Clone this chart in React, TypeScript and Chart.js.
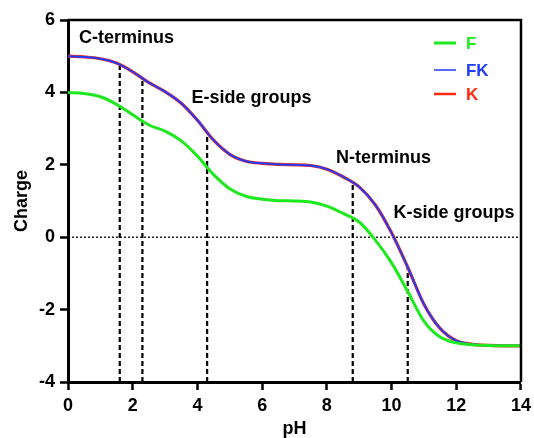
import React, { useEffect, useRef } from "react";
import { Chart, registerables } from "chart.js";

Chart.register(...registerables);

// pH sample points
const phValues = [0, 0.5, 1, 1.5, 2, 2.5, 3, 3.5, 4, 4.5, 5, 5.5, 6, 6.5, 7, 7.5, 8, 8.5, 9, 9.5, 10, 10.5, 11, 11.5, 12, 12.5, 13, 13.5, 14];

// Net charge series
const chargeF = [4.0, 3.97, 3.88, 3.67, 3.38, 3.1, 2.93, 2.66, 2.24, 1.73, 1.34, 1.13, 1.05, 1.01, 1.0, 0.97, 0.86, 0.66, 0.42, -0.08, -0.71, -1.5, -2.32, -2.76, -2.92, -2.97, -2.99, -3.0, -3.0];
const chargeFK = [5.0, 4.98, 4.93, 4.81, 4.57, 4.27, 4.02, 3.7, 3.23, 2.68, 2.29, 2.1, 2.04, 2.01, 2.0, 1.98, 1.88, 1.67, 1.39, 0.89, 0.12, -0.83, -1.85, -2.52, -2.86, -2.96, -2.99, -3.0, -3.0];
const chargeK = [5.0, 4.98, 4.93, 4.81, 4.57, 4.27, 4.02, 3.7, 3.23, 2.68, 2.29, 2.1, 2.04, 2.01, 2.0, 1.98, 1.88, 1.67, 1.39, 0.89, 0.12, -0.83, -1.85, -2.52, -2.86, -2.96, -2.99, -3.0, -3.0];

// pKa marker lines (pH, charge at the curve)
const pkaValues = [1.6, 2.3, 4.3, 8.8, 10.5];
const pkaCharges = [4.78, 4.38, 2.87, 1.52, -0.83];

// Group annotations
const groupLabels = ["C-terminus", "E-side groups", "N-terminus", "K-side groups"];
const labelPH = [0.34, 3.82, 8.28, 10.06];
const labelCharge = [5.49, 3.85, 2.19, 0.67];

// Series names & axis
const seriesNames = ["F", "FK", "K"];
const xTicks = [0, 2, 4, 6, 8, 10, 12, 14];
const yTicks = [-4, -2, 0, 2, 4, 6];

const FONT = "'Liberation Sans', Arial, Helvetica, sans-serif";
const GREEN = "#1ee81e";
const BLUE = "#1f3cf8";
const RED = "#ff2a10";

export default function App() {
  const ref = useRef<HTMLCanvasElement | null>(null);

  useEffect(() => {
    if (!ref.current) return;
    const pts = (ys: number[]) => phValues.map((x, i) => ({ x, y: ys[i] }));

    const curveColors = [GREEN, BLUE, RED];
    const curveWidths = [3, 2, 3.2];
    const curveData = [chargeF, chargeFK, chargeK];

    const datasets: any[] = curveData.map((d, i) => ({
      label: seriesNames[i],
      data: pts(d),
      borderColor: curveColors[i],
      borderWidth: curveWidths[i],
      pointRadius: 0,
      cubicInterpolationMode: "monotone",
      fill: false,
    }));

    pkaValues.forEach((p, i) => {
      datasets.push({
        label: "pKa" + i,
        data: [
          { x: p, y: yTicks[0] },
          { x: p, y: pkaCharges[i] },
        ],
        borderColor: "#000",
        borderWidth: 2.2,
        borderDash: [5, 3],
        pointRadius: 0,
        fill: false,
      });
    });

    datasets.push({
      label: "zero",
      data: [
        { x: xTicks[0], y: 0 },
        { x: xTicks[xTicks.length - 1], y: 0 },
      ],
      borderColor: "#000",
      borderWidth: 1.3,
      borderDash: [2, 2],
      pointRadius: 0,
      fill: false,
    });

    const overlay = {
      id: "overlay",
      afterDatasetsDraw(chart: any) {
        const ctx = chart.ctx;
        const { left, right, top, bottom } = chart.chartArea;
        const xs = chart.scales.x;
        const ys = chart.scales.y;
        ctx.save();
        // annotations
        ctx.fillStyle = "#000";
        ctx.font = `bold 18px ${FONT}`;
        ctx.textAlign = "left";
        ctx.textBaseline = "middle";
        groupLabels.forEach((t, i) => {
          ctx.fillText(t, xs.getPixelForValue(labelPH[i]), ys.getPixelForValue(labelCharge[i]));
        });
        // legend
        const legendColors = [GREEN, BLUE, RED];
        const legendWidths = [3, 1.5, 2.5];
        const legendY = [top + 23, top + 50, top + 74];
        ctx.font = `bold 17px ${FONT}`;
        seriesNames.forEach((n, i) => {
          ctx.beginPath();
          ctx.strokeStyle = legendColors[i];
          ctx.lineWidth = legendWidths[i];
          ctx.moveTo(right - 87, legendY[i]);
          ctx.lineTo(right - 65, legendY[i]);
          ctx.stroke();
          ctx.fillStyle = legendColors[i];
          ctx.fillText(n, right - 55, legendY[i] + 1);
        });
        // top & right frame
        ctx.beginPath();
        ctx.strokeStyle = "#000";
        ctx.lineWidth = 2.5;
        ctx.moveTo(left, top);
        ctx.lineTo(right, top);
        ctx.lineTo(right, bottom);
        ctx.stroke();
        ctx.restore();
      },
    };

    const tickFont = { size: 18, weight: "bold" as const, family: FONT };

    const chart = new Chart(ref.current, {
      type: "line",
      data: { datasets },
      options: {
        animation: false,
        responsive: false,
        devicePixelRatio: 1,
        layout: { padding: { left: 0, right: 11, top: 20, bottom: 0 } },
        plugins: { legend: { display: false }, tooltip: { enabled: false } },
        scales: {
          x: {
            type: "linear",
            min: xTicks[0],
            max: xTicks[xTicks.length - 1],
            afterBuildTicks: (s: any) => {
              s.ticks = xTicks.map((v) => ({ value: v }));
            },
            ticks: { color: "#000", font: { ...tickFont, lineHeight: 1.4 }, padding: 3, maxRotation: 0 },
            grid: { drawOnChartArea: false, tickLength: 8, tickWidth: 2.5, tickColor: "#000" },
            border: { color: "#000", width: 3 },
            title: {
              display: true,
              text: "pH",
              color: "#000",
              font: { size: 18, weight: "bold", family: FONT, lineHeight: 1 },
              padding: { top: 0, bottom: 0 },
            },
            afterFit: (s: any) => {
              s.height = 56;
            },
          },
          y: {
            type: "linear",
            min: yTicks[0],
            max: yTicks[yTicks.length - 1],
            afterBuildTicks: (s: any) => {
              s.ticks = yTicks.map((v) => ({ value: v }));
            },
            ticks: { color: "#000", font: tickFont, padding: 5 },
            grid: { drawOnChartArea: false, tickLength: 8, tickWidth: 2.5, tickColor: "#000" },
            border: { color: "#000", width: 3 },
            title: {
              display: true,
              text: "Charge",
              color: "#000",
              font: { size: 18, weight: "bold", family: FONT, lineHeight: 1 },
              padding: { top: 13, bottom: 0 },
            },
            afterFit: (s: any) => {
              s.width = 68;
            },
          },
        },
      },
      plugins: [overlay],
    });
    return () => chart.destroy();
  }, []);

  return (
    <div style={{ position: "fixed", left: 0, top: 0, width: 534, height: 438, background: "#fff" }}>
      <canvas ref={ref} width={534} height={438} style={{ width: 534, height: 438 }} />
    </div>
  );
}
